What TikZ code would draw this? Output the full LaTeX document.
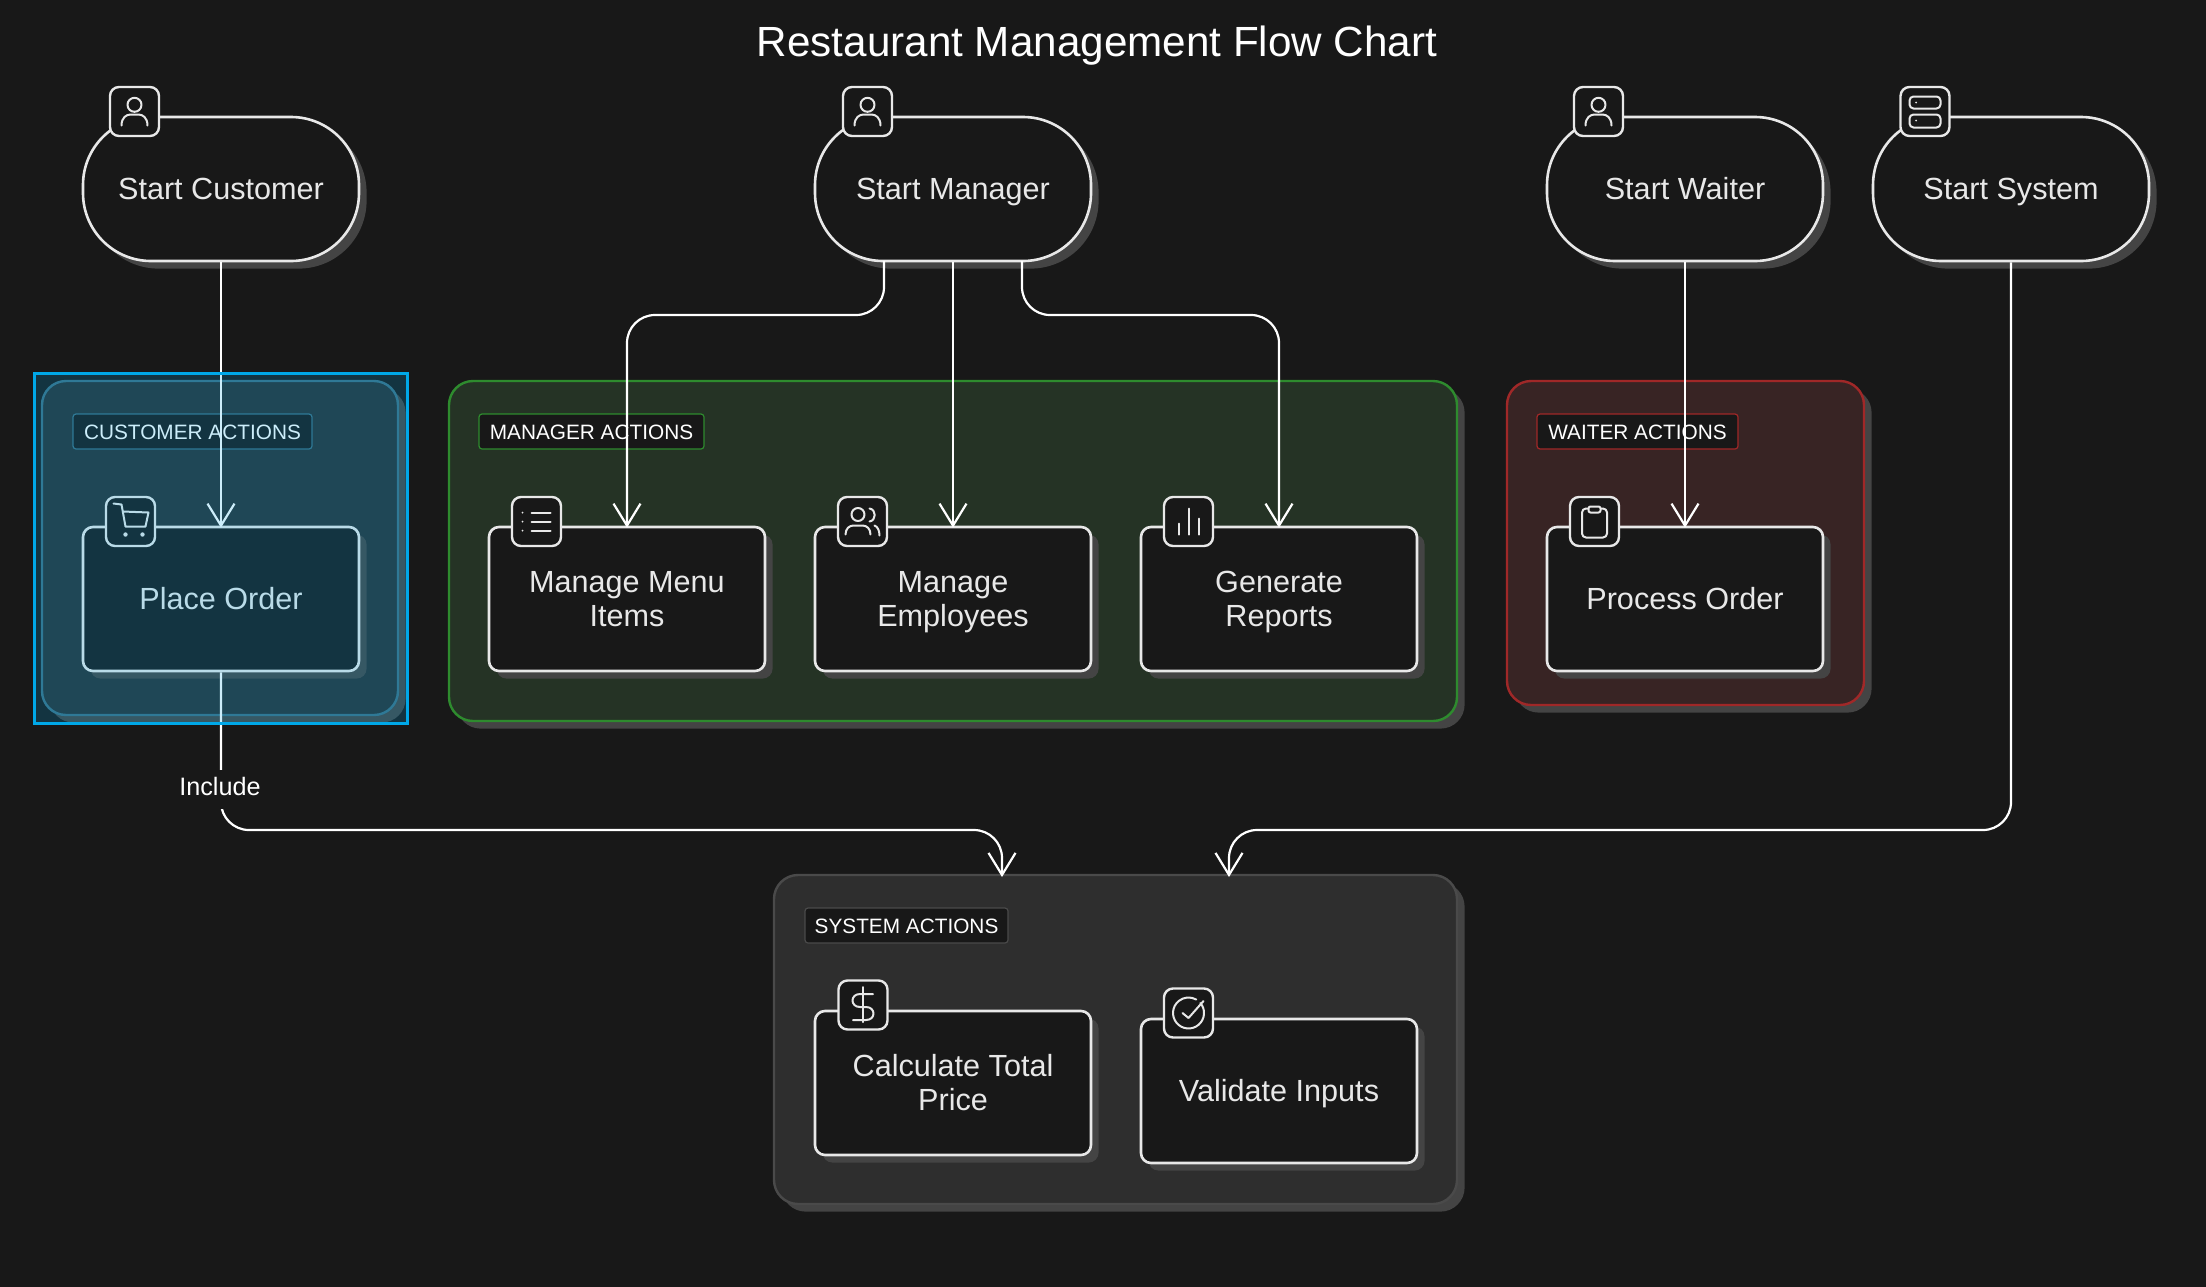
\documentclass[tikz,border=0pt]{standalone}
\usepackage{fontspec}
\setmainfont{Liberation Sans}
\usetikzlibrary{arrows.meta,shadows}
\definecolor{bgdark}{HTML}{181818}
\definecolor{inkpale}{HTML}{E8E8E8}
\definecolor{shadowgray}{HTML}{444444}
\definecolor{selectblue}{HTML}{00A8E8}
\definecolor{custFill}{HTML}{272F32}
\definecolor{custLine}{HTML}{3B6E82}
\definecolor{mgrFill}{HTML}{253325}
\definecolor{mgrLine}{HTML}{2E8B2E}
\definecolor{wtrFill}{HTML}{382424}
\definecolor{wtrLine}{HTML}{A02828}
\definecolor{sysFill}{HTML}{2E2E2E}
\definecolor{sysLine}{HTML}{4A4A4A}
\newcommand{\boxtop}{\rule{0pt}{13.9pt}}
\newcommand{\boxbot}{\rule[-3.6pt]{0pt}{3.6pt}}
\tikzset{
	startbox/.style={draw=inkpale, fill=bgdark, line width=1.3pt, text=inkpale, rounded corners=34pt, minimum width=138pt, minimum height=72pt, align=center, inner sep=0pt, font=\fontsize{15.3}{17}\selectfont, execute at end node=\boxbot, drop shadow={opacity=1, fill=shadowgray, shadow xshift=3.8pt, shadow yshift=-3.8pt}},
	actionbox/.style={startbox, rounded corners=5pt},
	iconbox/.style={draw=inkpale, fill=bgdark, line width=1.2pt, rounded corners=4.5pt, minimum size=24.5pt, inner sep=0pt},
	iconline/.style={draw=inkpale, line width=1pt, line cap=round, line join=round},
	groupbox/.style 2 args={draw=#2, fill=#1, line width=1.2pt, rounded corners=12pt, inner sep=0pt, drop shadow={opacity=1, fill=shadowgray, shadow xshift=3.8pt, shadow yshift=-3.8pt}},
	grouptag/.style={draw=#1, fill=bgdark, line width=0.6pt, text=white, rounded corners=1.5pt, minimum height=17.5pt, inner sep=0pt, text height=8pt, text depth=0pt, font=\fontsize{10.4}{12}\selectfont},
	flowline/.style={draw=white, line width=1.1pt, rounded corners=14pt, shorten >=-1pt, -{Straight Barb[length=11pt,width=13.5pt]}},
	flowlabel/.style={fill=bgdark, text=white, minimum width=44pt, minimum height=19.5pt, inner sep=0pt, text height=6pt, text depth=0pt, font=\fontsize{12.6}{14}\selectfont},
}
\newcommand{\iconUser}[1]{\begin{scope}[shift={(#1)}]
	\draw[iconline] (0,-6.7) circle[radius=7];
	\draw[iconline] (-13,14) .. controls (-13,6) and (-8,3) .. (-4,3) -- (4,3) .. controls (8,3) and (13,6) .. (13,14);
\end{scope}}
\newcommand{\iconCart}[1]{\begin{scope}[shift={(#1)}]
	\draw[iconline] (-17,-18) -- (-9,-17) -- (-5,5) -- (15,5) -- (18,-9) -- (-7.5,-10);
	\fill[inkpale] (-5,13) circle[radius=2.2] (12,13) circle[radius=2.2];
\end{scope}}
\newcommand{\iconList}[1]{\begin{scope}[shift={(#1)}]
	\foreach \y in {-9,0,9}{
		\draw[iconline] (-5,\y) -- (14,\y);
		\fill[inkpale] (-14,\y) circle[radius=1];}
\end{scope}}
\newcommand{\iconUsers}[1]{\begin{scope}[shift={(#1)}]
	\draw[iconline] (-4.5,-7) circle[radius=6.5];
	\draw[iconline] (-17,13) .. controls (-17,7) and (-13,4) .. (-9,4) -- (0,4) .. controls (4,4) and (8,7) .. (8,13);
	\draw[iconline] (7,-13) .. controls (14,-12) and (14,-1) .. (7,0);
	\draw[iconline] (12,4) .. controls (15,5) and (17,9) .. (17,14);
\end{scope}}
\newcommand{\iconBars}[1]{\begin{scope}[shift={(#1)}]
	\draw[iconline] (-10,13) -- (-10,2);
	\draw[iconline] (0,13) -- (0,-13);
	\draw[iconline] (10,13) -- (10,-3);
\end{scope}}
\newcommand{\iconClip}[1]{\begin{scope}[shift={(#1)}]
	\draw[iconline, rounded corners=2pt] (-12.5,-13) rectangle (12.5,16);
	\draw[iconline, fill=bgdark, rounded corners=1pt] (-6,-15) rectangle (6,-9);
\end{scope}}
\newcommand{\iconDollar}[1]{\begin{scope}[shift={(#1)}]
	\draw[iconline] (0,-18) -- (0,17);
	\draw[iconline] (10,-11) -- (-3,-11) .. controls (-13,-11) and (-13,2) .. (-3,2) -- (3,2) .. controls (13,2) and (13,15) .. (3,15) -- (-10,15);
\end{scope}}
\newcommand{\iconCheck}[1]{\begin{scope}[shift={(#1)}]
	\draw[iconline] (11.9,-10) arc[start angle=-40, end angle=300, radius=15.5];
	\draw[iconline] (-6,0) -- (0,5) -- (15,-12);
\end{scope}}
\newcommand{\iconServer}[1]{\begin{scope}[shift={(#1)}]
	\draw[iconline, rounded corners=2pt] (-15.5,-15) rectangle (15.5,-3);
	\draw[iconline, rounded corners=2pt] (-15.5,3) rectangle (15.5,16);
	\fill[inkpale] (-9,-9) circle[radius=1] (-9,9) circle[radius=1];
\end{scope}}
\begin{document}
\begin{tikzpicture}[x=0.5pt,y=-0.5pt]
	\useasboundingbox (0,-1) rectangle (2206,1285);
	\fill[bgdark] (-5,-5) rectangle (2211,1291);
	\node[anchor=base, text=white, font=\fontsize{21.1}{24}\selectfont] (chartTitle) at (1097,55) {Restaurant Management Flow Chart};
	% groups
	\node[groupbox={custFill}{custLine}, minimum width=178pt, minimum height=167pt] (custGroup) at (220,547) {};
	\node[groupbox={mgrFill}{mgrLine}, minimum width=504pt, minimum height=170pt] (mgrGroup) at (953,550) {};
	\node[groupbox={wtrFill}{wtrLine}, minimum width=178.5pt, minimum height=162pt] (wtrGroup) at (1685.5,542) {};
	\node[groupbox={sysFill}{sysLine}, minimum width=341.5pt, minimum height=164.5pt] (sysGroup) at (1115.5,1038.5) {};
	\node[grouptag=custLine, minimum width=119.5pt] (custTag) at (192.5,430.5) {CUSTOMER ACTIONS};
	\node[grouptag=mgrLine, minimum width=112.5pt] (mgrTag) at (591.5,430.5) {MANAGER ACTIONS};
	\node[grouptag=wtrLine, minimum width=100.5pt] (wtrTag) at (1637.5,430.5) {WAITER ACTIONS};
	\node[grouptag=sysLine, minimum width=101.5pt] (sysTag) at (906.5,924.5) {SYSTEM ACTIONS};
	% start nodes
	\node[startbox] (startCustomer) at (221,188) {\boxtop Start Customer};
	\node[startbox] (startManager) at (953,188) {\boxtop Start Manager};
	\node[startbox] (startWaiter) at (1685,188) {\boxtop Start Waiter};
	\node[startbox] (startSystem) at (2011,188) {\boxtop Start System};
	% action nodes
	\node[actionbox] (placeOrder) at (221,598) {\boxtop Place Order};
	\node[actionbox] (manageMenu) at (627,598) {\boxtop Manage Menu\\Items};
	\node[actionbox] (manageEmployees) at (953,598) {\boxtop Manage\\Employees};
	\node[actionbox] (generateReports) at (1279,598) {\boxtop Generate\\Reports};
	\node[actionbox] (processOrder) at (1685,598) {\boxtop Process Order};
	\node[actionbox] (calcPrice) at (953,1082) {\boxtop Calculate Total\\Price};
	\node[actionbox] (validateInputs) at (1279,1090) {\boxtop Validate Inputs};
	% icons
	\node[iconbox] (icoCustomer) at (134.5,110.5) {};
	\node[iconbox] (icoManager) at (867.5,110.5) {};
	\node[iconbox] (icoWaiter) at (1598.5,110.5) {};
	\node[iconbox] (icoSystem) at (1925,110.5) {};
	\node[iconbox] (icoCart) at (130.5,520.5) {};
	\node[iconbox] (icoMenu) at (536.5,520.5) {};
	\node[iconbox] (icoStaff) at (862.5,520.5) {};
	\node[iconbox] (icoReports) at (1188.5,520.5) {};
	\node[iconbox] (icoProcess) at (1594.5,520.5) {};
	\node[iconbox] (icoPrice) at (863,1004) {};
	\node[iconbox] (icoValid) at (1188.5,1012) {};
	\foreach \n in {icoCustomer,icoManager,icoWaiter}{\iconUser{\n}}
	\iconServer{icoSystem}
	\iconCart{icoCart}
	\iconList{icoMenu}
	\iconUsers{icoStaff}
	\iconBars{icoReports}
	\iconClip{icoProcess}
	\iconDollar{icoPrice}
	\iconCheck{icoValid}
	% connectors
	\coordinate (busHigh) at (0,314);
	\coordinate (busLow) at (0,829);
	\coordinate (mgrLeft) at (884,260);
	\coordinate (mgrRight) at (1022,260);
	\coordinate (sysInA) at (1002,874);
	\coordinate (sysInB) at (1229,874);
	\foreach \a/\b in {startCustomer/placeOrder,startManager/manageEmployees,startWaiter/processOrder}{
		\draw[flowline] (\a.south) -- (\b.north);}
	\draw[flowline] (mgrLeft) |- (busHigh -| manageMenu.north) -- (manageMenu.north);
	\draw[flowline] (mgrRight) |- (busHigh -| generateReports.north) -- (generateReports.north);
	\draw[flowline] (placeOrder.south) |- (busLow -| sysInA) -- (sysInA);
	\draw[flowline] (startSystem.south) |- (busLow -| sysInB) -- (sysInB);
	\node[flowlabel] (includeLabel) at (220,788) {Include};
	% selection overlay
	\node[draw=selectblue, line width=1.5pt, fill=selectblue, fill opacity=0.2, minimum width=186.5pt, minimum height=175pt, inner sep=0pt] (custSelect) at (220.5,547) {};
\end{tikzpicture}
\end{document}
